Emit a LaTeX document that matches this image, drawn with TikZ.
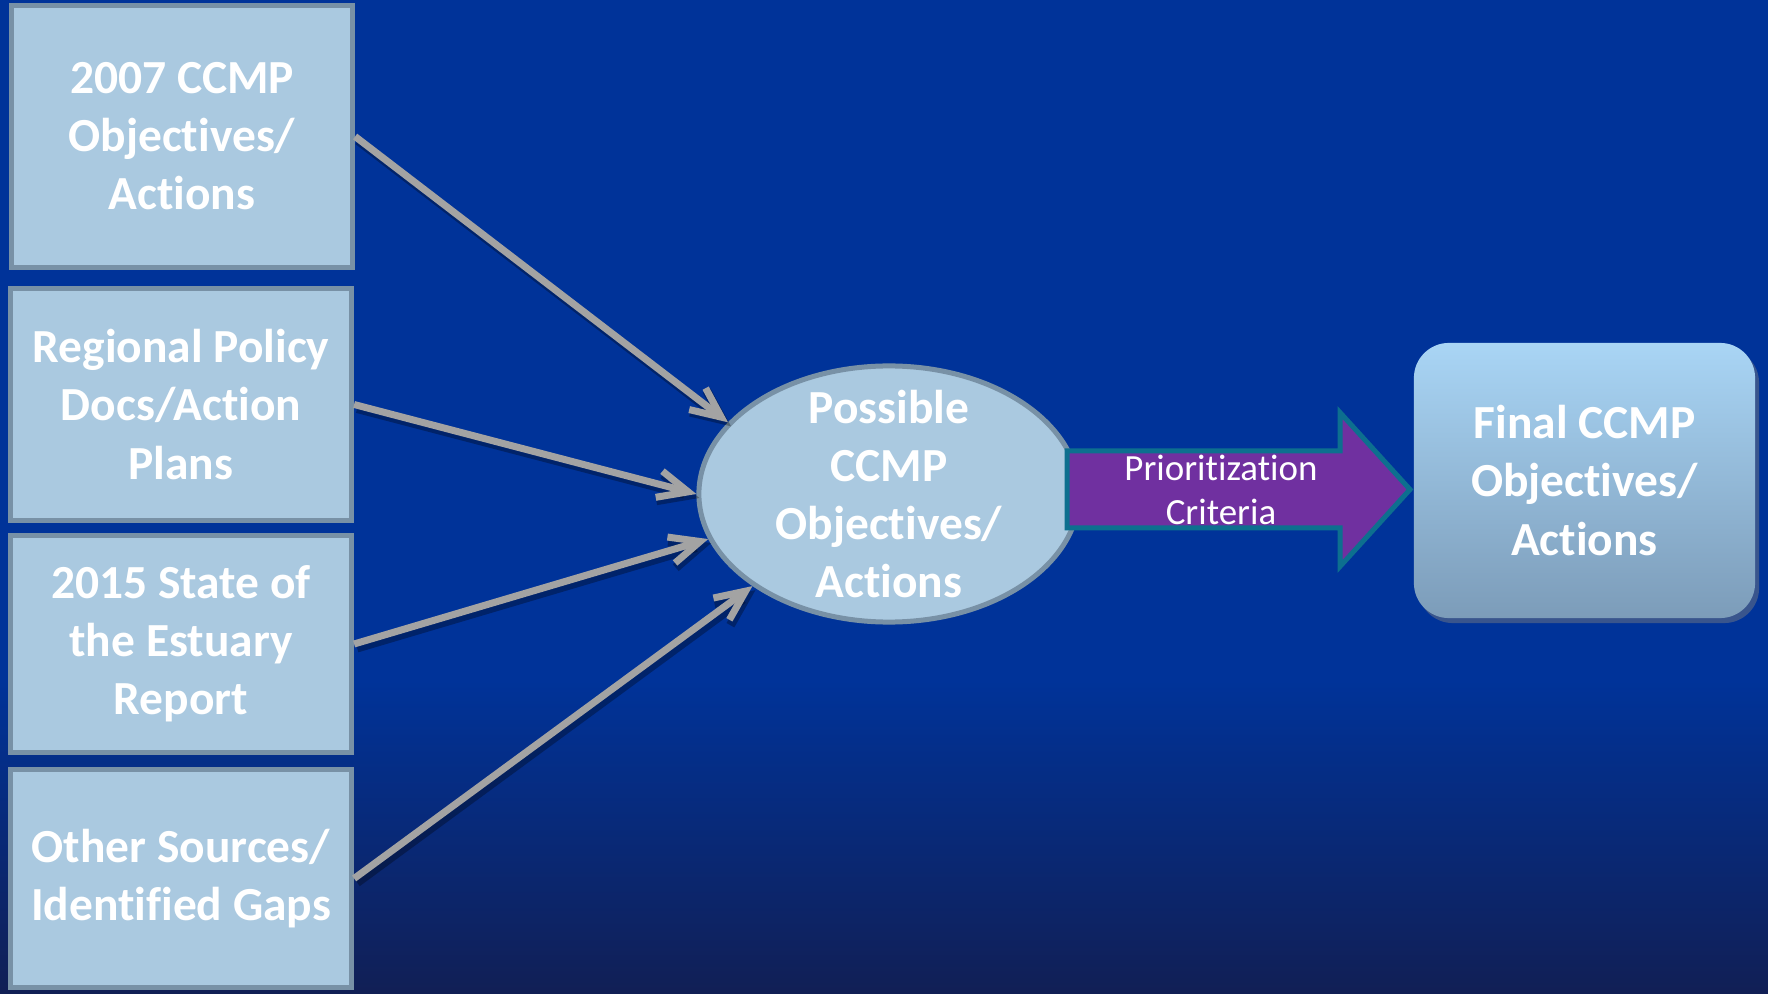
\documentclass[tikz,border=0pt]{standalone}
\usepackage{fontspec}
\setmainfont{Carlito}[RawFeature={-liga;-clig;-dlig;-calt;-rlig}]
\usepackage{tikz}
\usetikzlibrary{calc,math}
\usetikzlibrary{positioning,arrows.meta,shapes.geometric,shadows}
\usepackage{xcolor}

\definecolor{bgblue}{HTML}{003399}
\definecolor{bgdark}{HTML}{111F55}
\definecolor{boxfill}{HTML}{AAC9E0}
\definecolor{boxline}{HTML}{7891A6}
\definecolor{linkgray}{HTML}{A3A3A3}
\definecolor{prio}{HTML}{7030A0}
\definecolor{prioline}{HTML}{0D6F8F}
\definecolor{fintop}{HTML}{A9D5F5}
\definecolor{finbot}{HTML}{7C9CB9}

\begin{document}
\begin{tikzpicture}[x=0.01cm, y=-0.01cm,
    font=\fontsize{13.5}{16.5}\selectfont\bfseries,
    srcbox/.style={draw=boxline, fill=boxfill, line width=0.05cm, text=white,
        align=center, inner sep=0pt, minimum width=3.41cm},
    possnode/.style={ellipse, draw=boxline, fill=boxfill, line width=0.05cm,
        inner sep=0pt, minimum width=3.8cm, minimum height=2.56cm},
    posstext/.style={text=white, align=center, inner sep=0pt},
    linkarrow/.style={draw=linkgray, line width=0.07cm,
        -{Straight Barb[length=0.3cm, width=0.27cm]},
        preaction={draw=black, opacity=0.3, line width=0.09cm,
            transform canvas={shift={(0.03cm,-0.04cm)}}}},
    prioarrow/.style={draw=prioline, fill=prio, line width=0.05cm},
    priotext/.style={text=white, align=center,
        font=\fontsize{10.5}{12.5}\selectfont},
    finbox/.style={rounded corners=0.35cm, top color=fintop, bottom color=finbot,
        text=white, align=center, inner sep=0pt,
        minimum width=3.41cm, minimum height=2.75cm,
        drop shadow={opacity=0.45, shadow xshift=0.04cm, shadow yshift=-0.05cm}}
]

%background, blue with a darker band at the bottom
\fill[bgblue] (0,0) rectangle (1768,994);
\shade[top color=bgblue, bottom color=bgdark] (0,680) rectangle (1768,994);
\useasboundingbox (0,0) rectangle (1768,994);

%four source boxes on the left
\node[srcbox, minimum height=2.62cm] (b1) at (182,136.5) {2007 CCMP\\Objectives/\\Actions};
\node[srcbox, minimum height=2.32cm] (b2) at (181,404.5) {Regional Policy\\Docs/Action\\Plans};
\node[srcbox, minimum height=2.17cm] (b3) at (181,644) {2015 State of\\the Estuary\\Report};
\node[srcbox, minimum height=2.18cm] (b4) at (181,878.5) {Other Sources/\\Identified Gaps};

%the ellipse in the middle, text set on top of it
\node[possnode] (poss) at (889,494) {};
\node[posstext] (posslabel) at (poss.center) {Possible\\CCMP\\Objectives/\\Actions};

%arrows from the sources into the ellipse
\foreach \k/\a in {1/156,2/180,3/194,4/214} {
    \draw[linkarrow] (b\k.east) -- (poss.\a);
}

%block arrow with the criteria
\tikzmath{
\ax=1067;   %left end of the shaft
\bx=1340;   %base of the head
\tx=1410;   %tip
\ay=489.5;  %middle line
\sw=38.5;   %half width of the shaft
\hw=77;     %half width of the head
}
\draw[prioarrow] (\ax,\ay-\sw) -- (\bx,\ay-\sw) -- (\bx,\ay-\hw) -- (\tx,\ay)
    -- (\bx,\ay+\hw) -- (\bx,\ay+\sw) -- (\ax,\ay+\sw) -- cycle;
\node[priotext] (crit) at (1221,490) {Prioritization\\Criteria};

%final box on the right
\node[finbox] (fin) at (1584.5,480.5) {Final CCMP\\Objectives/\\Actions};

\end{tikzpicture}
\end{document}
